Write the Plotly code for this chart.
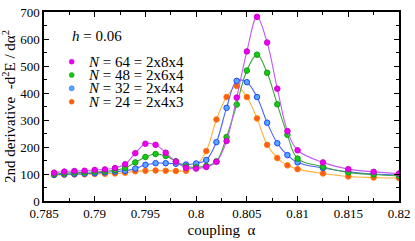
import plotly.graph_objects as go

alpha = [0.786, 0.787, 0.788, 0.789, 0.790, 0.791, 0.792, 0.793, 0.794, 0.795,
         0.796, 0.797, 0.798, 0.799, 0.800, 0.801, 0.802, 0.803, 0.804, 0.805,
         0.806, 0.807, 0.808, 0.809, 0.810, 0.8125, 0.815, 0.8175, 0.820]

n64 = [105, 109, 111, 112, 115, 117, 122, 136, 177, 212, 208, 179, 146, 123, 120,
       126, 145, 222, 383, 554, 682, 587, 416, 259, 188, 143, 118, 108, 102]
n48 = [100, 103, 105, 106, 108, 110, 114, 122, 143, 163, 174, 167, 147, 128, 125,
       130, 147, 237, 357, 483, 542, 475, 358, 245, 157, 127, 106, 98, 93]
n32 = [97, 99, 100, 101, 103, 106, 109, 112, 120, 134, 140, 140, 138, 135, 139,
       152, 218, 345, 445, 440, 385, 290, 214, 170, 143, 122, 108, 100, 96]
n24 = [96, 97, 98, 99, 100, 101, 102, 105, 110, 112, 113, 112, 111, 112, 132,
       185, 302, 385, 426, 385, 306, 208, 159, 132, 118, 102, 91, 87, 85]

labels = ["<i>N</i> = 64 = 2x8x4", "<i>N</i> = 48 = 2x6x4",
          "<i>N</i> = 32 = 2x4x4", "<i>N</i> = 24 = 2x4x3"]
series = [n64, n48, n32, n24]
line_colors = ["#c05cf0", "#3fa63f", "#5060ff", "#ffb03a"]
fill_colors = ["#ee00ee", "#11cc11", "#55aaff", "#ff5a1a"]
edge_colors = ["#cc00cc", "#119911", "#2244ff", "#ff7a00"]

x_ticks = [0.785, 0.79, 0.795, 0.8, 0.805, 0.81, 0.815, 0.82]
x_tick_text = ["0.785", "0.79", "0.795", "0.8", "0.805", "0.81", "0.815", "0.82"]
y_ticks = [0, 100, 200, 300, 400, 500, 600, 700]

fig = go.Figure()
for i in [3, 2, 1, 0]:
    fig.add_trace(go.Scatter(
        x=alpha, y=series[i], mode="lines+markers", name=labels[i],
        line=dict(color=line_colors[i], width=1.1, shape="spline", smoothing=1),
        marker=dict(size=5.5, color=fill_colors[i], line=dict(color=edge_colors[i], width=1)),
        showlegend=False))

font = "Liberation Serif"
fig.update_layout(
    width=415, height=241,
    margin=dict(l=44, r=12, t=5, b=38),
    paper_bgcolor="white", plot_bgcolor="white",
    font=dict(family=font, size=12, color="black"),
    xaxis=dict(range=[0.785, 0.82], tickvals=x_ticks, ticktext=x_tick_text,
               ticks="inside", ticklen=5, tickwidth=1, tickcolor="black",
               showline=True, linecolor="black", linewidth=1.5, mirror="ticks",
               showgrid=False, zeroline=False, ticklabeloverflow="allow",
               minor=dict(ticks="inside", ticklen=3, dtick=0.0025, tick0=0.785, tickcolor="black"),
               title=dict(text="coupling  α", font=dict(size=15, family=font), standoff=4),
               tickfont=dict(size=13, family=font)),
    yaxis=dict(range=[0, 700], tickvals=y_ticks,
               ticks="inside", ticklen=5, tickwidth=1, tickcolor="black",
               showline=True, linecolor="black", linewidth=1.5, mirror="ticks",
               showgrid=False, zeroline=False, ticklabeloverflow="allow",
               minor=dict(ticks="inside", ticklen=3, dtick=50, tickcolor="black"),
               title=dict(text="2nd derivative  -d<sup>2</sup>E / dα<sup>2</sup>",
                          font=dict(size=15, family=font), standoff=2),
               tickfont=dict(size=13, family=font)),
)

fig.add_annotation(xref="paper", yref="paper", x=(70 - 44) / 359, y=1 - (30 - 5) / 198,
                   xanchor="left", yanchor="middle", showarrow=False,
                   text="<i>h</i> = 0.06", font=dict(size=15, family=font))

rows_y = [57, 71, 85, 99]
for i in range(4):
    yp = 1 - (rows_y[i] - 5) / 198
    fig.add_annotation(xref="paper", yref="paper", x=(86 - 44) / 359, y=yp,
                       xanchor="left", yanchor="middle", showarrow=False,
                       text=labels[i], font=dict(size=15, family=font))
    fig.add_shape(type="circle", xref="paper", yref="paper",
                  xsizemode="pixel", ysizemode="pixel",
                  xanchor=(72 - 44) / 359, yanchor=yp,
                  x0=-2.5, x1=2.5, y0=-2.5, y1=2.5,
                  fillcolor=fill_colors[i], line=dict(color=edge_colors[i], width=0.5))

fig.write_html("out.html", config={"displayModeBar": False},
               post_script="document.body.style.margin='0';document.body.style.padding='0';")
